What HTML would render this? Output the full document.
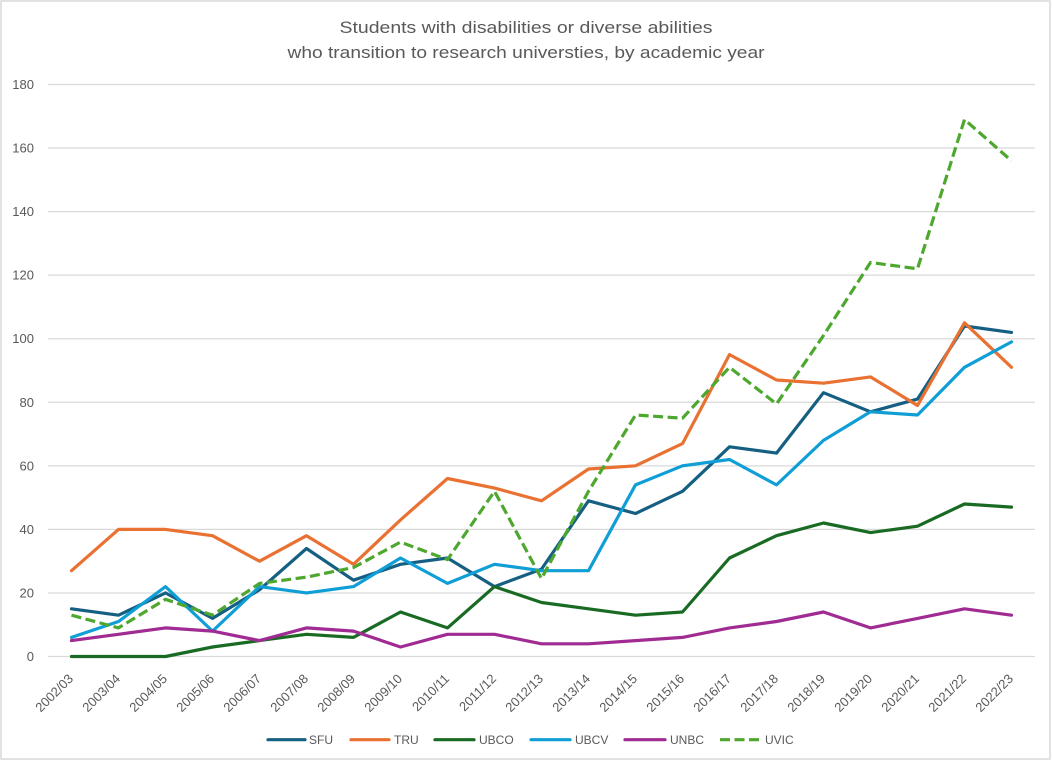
<!DOCTYPE html>
<html><head><meta charset="utf-8"><style>
html,body{margin:0;padding:0;background:#fff;}
svg{display:block;}
text{font-family:"Liberation Sans",Arial,sans-serif;fill:#595959;}
</style></head><body>
<svg width="1053" height="762" viewBox="0 0 1053 762" xmlns="http://www.w3.org/2000/svg">
<rect x="0" y="0" width="1053" height="762" fill="#fff"/>
<rect x="1" y="1" width="1049" height="758" fill="none" stroke="#d9d9d9" stroke-width="1.5"/>
<text x="526" y="33" font-size="17" text-anchor="middle" textLength="373" lengthAdjust="spacingAndGlyphs">Students with disabilities or diverse abilities</text>
<text x="526" y="58" font-size="17" text-anchor="middle" textLength="477" lengthAdjust="spacingAndGlyphs">who transition to research universties, by academic year</text>
<g stroke="#d9d9d9" stroke-width="1.25">
<line x1="48" x2="1035" y1="84.5" y2="84.5"/>
<line x1="48" x2="1035" y1="148.05" y2="148.05"/>
<line x1="48" x2="1035" y1="211.6" y2="211.6"/>
<line x1="48" x2="1035" y1="275.15" y2="275.15"/>
<line x1="48" x2="1035" y1="338.7" y2="338.7"/>
<line x1="48" x2="1035" y1="402.3" y2="402.3"/>
<line x1="48" x2="1035" y1="465.85" y2="465.85"/>
<line x1="48" x2="1035" y1="529.4" y2="529.4"/>
<line x1="48" x2="1035" y1="592.95" y2="592.95"/>
<line x1="48" x2="1035" y1="656.5" y2="656.5"/>
</g>
<g font-size="13" text-anchor="end">
<text x="34" y="89">180</text>
<text x="34" y="152.5">160</text>
<text x="34" y="216">140</text>
<text x="34" y="279.6">120</text>
<text x="34" y="343.2">100</text>
<text x="34" y="406.8">80</text>
<text x="34" y="470.3">60</text>
<text x="34" y="533.9">40</text>
<text x="34" y="597.4">20</text>
<text x="34" y="661">0</text>
</g>
<g font-size="13" text-anchor="end">
<text transform="translate(74,679.5) rotate(-45)">2002/03</text>
<text transform="translate(121,679.5) rotate(-45)">2003/04</text>
<text transform="translate(168,679.5) rotate(-45)">2004/05</text>
<text transform="translate(215,679.5) rotate(-45)">2005/06</text>
<text transform="translate(262,679.5) rotate(-45)">2006/07</text>
<text transform="translate(309,679.5) rotate(-45)">2007/08</text>
<text transform="translate(356,679.5) rotate(-45)">2008/09</text>
<text transform="translate(403,679.5) rotate(-45)">2009/10</text>
<text transform="translate(450,679.5) rotate(-45)">2010/11</text>
<text transform="translate(497,679.5) rotate(-45)">2011/12</text>
<text transform="translate(544,679.5) rotate(-45)">2012/13</text>
<text transform="translate(591,679.5) rotate(-45)">2013/14</text>
<text transform="translate(638,679.5) rotate(-45)">2014/15</text>
<text transform="translate(685,679.5) rotate(-45)">2015/16</text>
<text transform="translate(732,679.5) rotate(-45)">2016/17</text>
<text transform="translate(779,679.5) rotate(-45)">2017/18</text>
<text transform="translate(826,679.5) rotate(-45)">2018/19</text>
<text transform="translate(873,679.5) rotate(-45)">2019/20</text>
<text transform="translate(920,679.5) rotate(-45)">2020/21</text>
<text transform="translate(967,679.5) rotate(-45)">2021/22</text>
<text transform="translate(1014,679.5) rotate(-45)">2022/23</text>
</g>
<g fill="none" stroke-width="3.2" stroke-linejoin="round" stroke-linecap="round">
<polyline stroke="#156082" points="71.5,608.8 118.5,615.2 165.5,592.9 212.5,618.4 259.5,589.8 306.5,548.5 353.5,580.2 400.5,564.3 447.5,558.0 494.5,586.6 541.5,569.1 588.5,500.8 635.5,513.5 682.5,491.3 729.5,446.8 776.5,453.1 823.5,392.7 870.5,411.8 917.5,399.1 964.5,326.0 1011.5,332.4"/>
<polyline stroke="#E97132" points="71.5,570.7 118.5,529.4 165.5,529.4 212.5,535.7 259.5,561.2 306.5,535.7 353.5,564.3 400.5,519.9 447.5,478.5 494.5,488.1 541.5,500.8 588.5,469.0 635.5,465.8 682.5,443.6 729.5,354.6 776.5,380.0 823.5,383.2 870.5,376.9 917.5,405.5 964.5,322.8 1011.5,367.3"/>
<polyline stroke="#196B24" points="71.5,656.5 118.5,656.5 165.5,656.5 212.5,647.0 259.5,640.6 306.5,634.3 353.5,637.4 400.5,612.0 447.5,627.9 494.5,586.6 541.5,602.5 588.5,608.8 635.5,615.2 682.5,612.0 729.5,558.0 776.5,535.7 823.5,523.0 870.5,532.6 917.5,526.2 964.5,504.0 1011.5,507.1"/>
<polyline stroke="#0F9ED5" points="71.5,637.4 118.5,621.5 165.5,586.6 212.5,631.1 259.5,586.6 306.5,592.9 353.5,586.6 400.5,558.0 447.5,583.4 494.5,564.3 541.5,570.7 588.5,570.7 635.5,484.9 682.5,465.8 729.5,459.5 776.5,484.9 823.5,440.4 870.5,411.8 917.5,415.0 964.5,367.3 1011.5,341.9"/>
<polyline stroke="#A02B93" points="71.5,640.6 118.5,634.3 165.5,627.9 212.5,631.1 259.5,640.6 306.5,627.9 353.5,631.1 400.5,647.0 447.5,634.3 494.5,634.3 541.5,643.8 588.5,643.8 635.5,640.6 682.5,637.4 729.5,627.9 776.5,621.5 823.5,612.0 870.5,627.9 917.5,618.4 964.5,608.8 1011.5,615.2"/>
<polyline stroke="#4EA72E" stroke-linecap="butt" stroke-dasharray="10 4.5" points="71.5,615.2 118.5,627.9 165.5,599.3 212.5,615.2 259.5,583.4 306.5,577.1 353.5,567.5 400.5,542.1 447.5,559.6 494.5,491.3 541.5,578.6 588.5,491.3 635.5,415.0 682.5,418.2 729.5,367.3 776.5,403.9 823.5,335.5 870.5,262.5 917.5,268.8 964.5,119.5 1011.5,160.8"/>
</g>
<g stroke-width="3.2" stroke-linecap="round">
<line x1="268" x2="305" y1="739.7" y2="739.7" stroke="#156082"/>
<line x1="351" x2="389" y1="739.7" y2="739.7" stroke="#E97132"/>
<line x1="435" x2="474" y1="739.7" y2="739.7" stroke="#196B24"/>
<line x1="531" x2="570" y1="739.7" y2="739.7" stroke="#0F9ED5"/>
<line x1="625" x2="665" y1="739.7" y2="739.7" stroke="#A02B93"/>
<line x1="720" x2="760" y1="739.7" y2="739.7" stroke="#4EA72E" stroke-linecap="butt" stroke-dasharray="10 4.5"/>
</g>
<g font-size="12">
<text x="309" y="744">SFU</text>
<text x="394" y="744">TRU</text>
<text x="479" y="744">UBCO</text>
<text x="575" y="744">UBCV</text>
<text x="670" y="744">UNBC</text>
<text x="765" y="744">UVIC</text>
</g>
</svg>
</body></html>
